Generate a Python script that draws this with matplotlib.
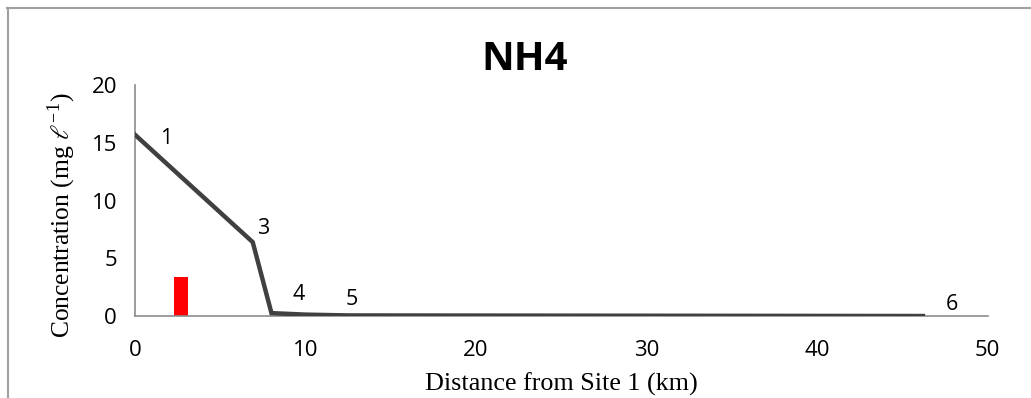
import matplotlib.pyplot as plt
from matplotlib.lines import Line2D

# data
dist = [0, 6.9, 8.0, 10.0, 12.5, 46.2]
conc = [15.7, 6.4, 0.25, 0.12, 0.05, 0.0]
site_labels = ['1', '3', '4', '5', '6']
label_xy = [(1.8, 15.4), (7.5, 7.6), (9.6, 1.9), (12.7, 1.4), (47.9, 1.0)]
bar_x = [2.7]
bar_h = [3.4]

plt.rcParams['mathtext.fontset'] = 'stix'

fig = plt.figure(figsize=(10.31, 3.98), dpi=100)
ax = fig.add_axes([0.131, 0.206, 0.827, 0.580])

ax.bar(bar_x, bar_h, width=0.85, color='#ff0000', zorder=2)
ax.plot(dist, conc, color='#404040', lw=3.2, solid_joinstyle='miter', zorder=3)
for lab, (x, y) in zip(site_labels, label_xy):
    ax.text(x, y, lab, fontsize=15.5, family='Open Sans', ha='center', va='center')

ax.set_xlim(0, 50)
ax.set_ylim(0, 20)
ax.set_xticks([0, 10, 20, 30, 40, 50])
ax.set_yticks([0, 5, 10, 15, 20])
ax.tick_params(length=0, labelsize=16)
for t in ax.get_xticklabels() + ax.get_yticklabels():
    t.set_family('Open Sans')
ax.tick_params(axis='x', pad=17)
ax.tick_params(axis='y', pad=13)
for s in ['top', 'right']:
    ax.spines[s].set_visible(False)
for s in ['left', 'bottom']:
    ax.spines[s].set_color('#8c8c8c')
    ax.spines[s].set_linewidth(1.2)

fig.text(525 / 1031, 1 - 60 / 398, 'NH4', fontsize=29, fontweight='bold',
         family='Open Sans', ha='center', va='center')
ax.set_xlabel('Distance from Site 1 (km)', fontsize=18.8, family='Liberation Serif')
ax.xaxis.set_label_coords(0.5, -0.245)
ax.set_ylabel(r'Concentration (mg $\ell^{\mathregular{-1}}$)', fontsize=18.4,
              family='Liberation Serif')
ax.yaxis.set_label_coords(-0.067, 0.437)

# outer frame (top and left edges visible)
fig.add_artist(Line2D([0.007, 1.0], [0.98, 0.98], color='#a0a0a0', lw=1.5))
fig.add_artist(Line2D([0.008, 0.008], [0.0, 0.98], color='#a0a0a0', lw=1.5))

fig.savefig('out.png', dpi=100)
